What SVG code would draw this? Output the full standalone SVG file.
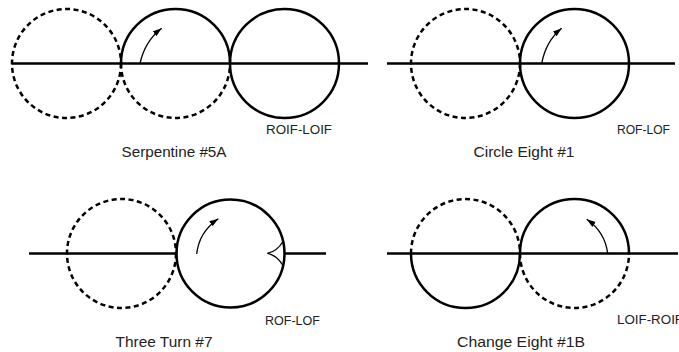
<svg xmlns="http://www.w3.org/2000/svg" width="679" height="352" viewBox="0 0 679 352">
<style>
.solid{fill:none;stroke:#000;stroke-width:2.5}
.dash{fill:none;stroke:#000;stroke-width:2.5;stroke-dasharray:5 3.5}
.base{fill:none;stroke:#000;stroke-width:2.5}
.arr{fill:none;stroke:#000;stroke-width:1.3;marker-end:url(#ah)}
.thin{fill:none;stroke:#000;stroke-width:1.3}
.cap{font-family:"Liberation Sans",Arial,sans-serif;font-size:15px;fill:#222}
.lab{font-family:"Liberation Sans",Arial,sans-serif;font-size:12px;fill:#222}
</style>
<defs>
<marker id="ah" markerUnits="userSpaceOnUse" markerWidth="10" markerHeight="7" refX="9" refY="3" orient="auto">
<path d="M0,0 L9,3 L0,6 Z" fill="#000"/>
</marker>
</defs>
<rect width="679" height="352" fill="#fff"/>

<g id="serpentine">
<g id="serp-c1"><circle class="dash" cx="66.5" cy="63.5" r="54.5"/></g>
<g id="serp-c2">
<path class="solid" d="M121 63.5 A54.5 54.5 0 0 1 230 63.5"/>
<path class="dash" d="M121 63.5 A54.5 54.5 0 0 0 230 63.5"/>
</g>
<g id="serp-c3"><circle class="solid" cx="284.5" cy="63.5" r="54.5"/></g>
<text class="lab" x="266" y="134" textLength="66" lengthAdjust="spacingAndGlyphs">ROIF-LOIF</text>
<text class="cap" x="174" y="156.5" text-anchor="middle" textLength="105" lengthAdjust="spacingAndGlyphs">Serpentine #5A</text>
</g>

<g id="circle-eight">
<g id="ce-c1"><circle class="dash" cx="465.5" cy="63.5" r="54.5"/></g>
<g id="ce-c2"><circle class="solid" cx="574.5" cy="63.5" r="54.5"/></g>
<text class="lab" x="617" y="134" textLength="53" lengthAdjust="spacingAndGlyphs">ROF-LOF</text>
<text class="cap" x="524" y="156.5" text-anchor="middle" textLength="101" lengthAdjust="spacingAndGlyphs">Circle Eight #1</text>
</g>

<g id="three-turn">
<g id="tt-c1"><circle class="dash" cx="121.5" cy="253.5" r="54.5"/></g>
<g id="tt-c2"><circle class="solid" cx="230.5" cy="253.5" r="54"/></g>
<path class="thin" d="M283 241.5 Q277 251.5 267.3 253.4 Q277 255.3 283 265.5"/>
<text class="lab" x="265" y="325" textLength="55" lengthAdjust="spacingAndGlyphs">ROF-LOF</text>
<text class="cap" x="164" y="346.5" text-anchor="middle" textLength="97" lengthAdjust="spacingAndGlyphs">Three Turn #7</text>
</g>

<g id="change-eight">
<g id="chg-c1">
<path class="dash" d="M411 253.5 A54.5 54.5 0 0 1 520 253.5"/>
<path class="solid" d="M411 253.5 A54.5 54.5 0 0 0 520 253.5"/>
</g>
<g id="chg-c2">
<path class="solid" d="M520 253.5 A54.5 54.5 0 0 1 629 253.5"/>
<path class="dash" d="M520 253.5 A54.5 54.5 0 0 0 629 253.5"/>
</g>
<text class="lab" x="617" y="324" textLength="66" lengthAdjust="spacingAndGlyphs">LOIF-ROIF</text>
<text class="cap" x="521" y="346.5" text-anchor="middle" textLength="128" lengthAdjust="spacingAndGlyphs">Change Eight #1B</text>
</g>

<g id="connectors">
<line class="base" x1="12" y1="63.5" x2="368" y2="63.5"/>
<line class="base" x1="387" y1="63.5" x2="675" y2="63.5"/>
<line class="base" x1="29" y1="253.5" x2="177" y2="253.5"/>
<line class="base" x1="284" y1="253.5" x2="326" y2="253.5"/>
<line class="base" x1="387" y1="253.5" x2="678" y2="253.5"/>
<path class="arr" d="M140 63.5 Q145 41 161.7 28.3"/>
<path class="arr" d="M541.7 63.5 Q546 41 561.7 28.3"/>
<path class="arr" d="M196.7 254 Q199 232 218.3 218.7"/>
<path class="arr" d="M607.7 253.5 Q605 232 586.7 219.3"/>
</g>
</svg>
